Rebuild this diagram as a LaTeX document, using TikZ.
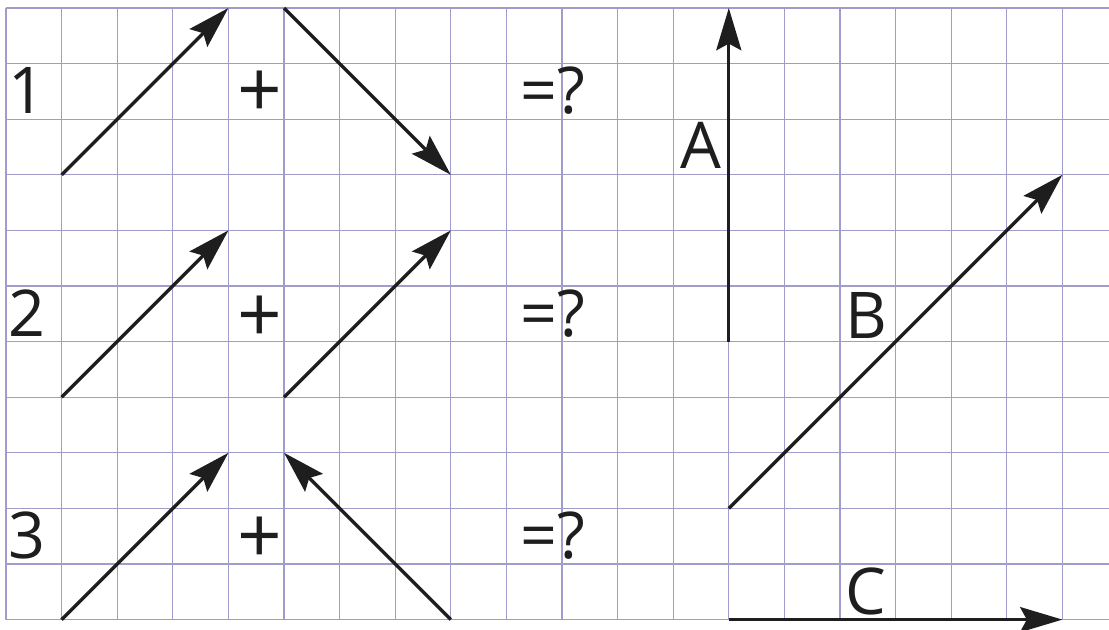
\documentclass[tikz,border=0pt]{standalone}
\usepackage{fontspec}
\setmainfont{Open Sans}
\usepackage{xcolor}
\usetikzlibrary{arrows.meta}
\definecolor{gridlav}{HTML}{A09CCC}
\definecolor{ink}{HTML}{1E1E1E}

\begin{document}
\begin{tikzpicture}[
  x=1cm, y=1cm,
  gridline/.style={draw=gridlav, line width=0.7pt},
  vec/.style={-{Stealth[length=7.6mm, width=4.5mm, inset=1.2mm]}, draw=ink, line width=1.7pt},
  lbl/.style={anchor=base, inner sep=0pt, text=ink, font=\fontsize{33}{40}\selectfont},
  oplbl/.style={anchor=center, inner sep=0pt, text=ink, font=\fontsize{40}{48}\selectfont}
]
\useasboundingbox[fill=white] (-0.108,0.144) rectangle (19.838,-11.187);
\draw[gridline, step=1] (0,-11) grid (19.838,0);

% row labels and operators
\node[lbl] (num1) at (0.38,-1.9) {1};
\node[lbl] (num2) at (0.38,-5.9) {2};
\node[lbl] (num3) at (0.38,-9.9) {3};
\node[oplbl] (plus1) at (4.57,-1.55) {+};
\node[oplbl] (plus2) at (4.57,-5.6) {+};
\node[oplbl] (plus3) at (4.57,-9.58) {+};
\node[lbl] (ask1) at (9.84,-1.9) {=?};
\node[lbl] (ask2) at (9.84,-5.9) {=?};
\node[lbl] (ask3) at (9.84,-9.9) {=?};

% end points of the vectors
\coordinate (r1a0) at (1,-3);  \coordinate (r1a1) at (4,0);
\coordinate (r1b0) at (5,0);   \coordinate (r1b1) at (8,-3);
\coordinate (r2a0) at (1,-7);  \coordinate (r2a1) at (4,-4);
\coordinate (r2b0) at (5,-7);  \coordinate (r2b1) at (8,-4);
\coordinate (r3a0) at (1,-11); \coordinate (r3a1) at (4,-8);
\coordinate (r3b0) at (8,-11); \coordinate (r3b1) at (5,-8);
\coordinate (vA0) at (13,-6);  \coordinate (vA1) at (13,0);
\coordinate (vB0) at (13,-9);  \coordinate (vB1) at (19,-3);
\coordinate (vC0) at (13,-11); \coordinate (vC1) at (19,-11);

\draw[vec] (r1a0) -- (r1a1);
\draw[vec] (r1b0) -- (r1b1);
\draw[vec] (r2a0) -- (r2a1);
\draw[vec] (r2b0) -- (r2b1);
\draw[vec] (r3a0) -- (r3a1);
\draw[vec] (r3b0) -- (r3b1);
\draw[vec] (vA0) -- (vA1);
\draw[vec] (vB0) -- (vB1);
\draw[vec] (vC0) -- (vC1);

\node[lbl] (labA) at (12.5,-2.88) {A};
\node[lbl] (labB) at (15.47,-5.94) {B};
\node[lbl] (labC) at (15.47,-10.9) {C};
\end{tikzpicture}
\end{document}
